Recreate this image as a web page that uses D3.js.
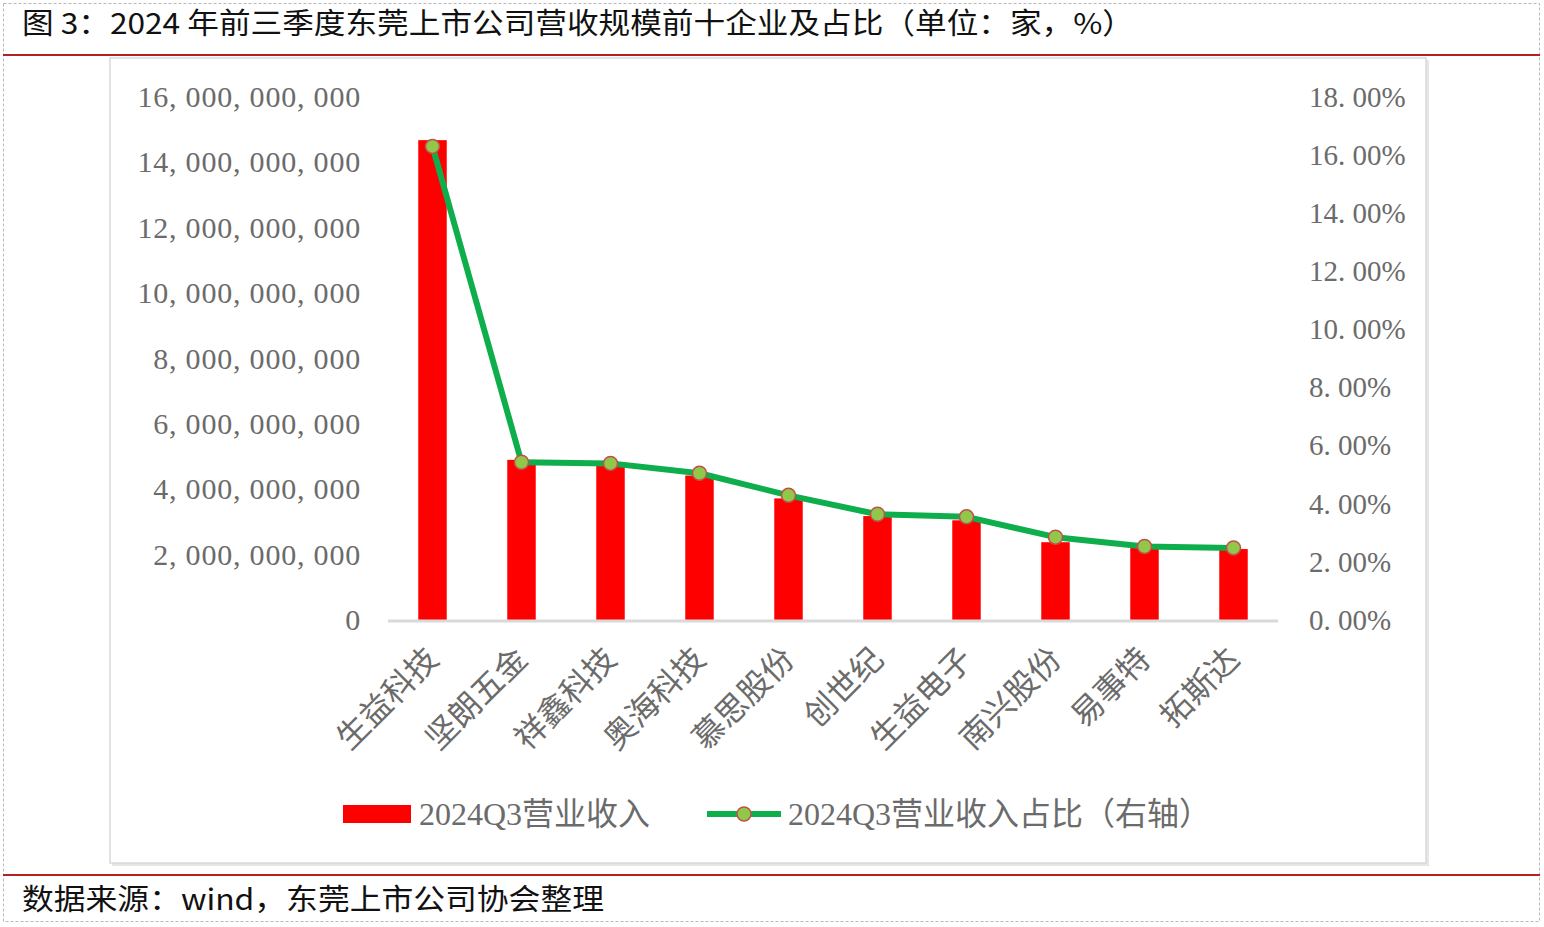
<!DOCTYPE html>
<html>
<head>
<meta charset="utf-8">
<script src="https://cdn.jsdelivr.net/npm/d3@7"></script>
<style>
  body { margin: 0; background: #fff; }
  svg { display: block; }
</style>
</head>
<body>
<svg id="chart" width="1544" height="927"></svg>
<script>
// data
var companies = ["生益科技", "坚朗五金", "祥鑫科技", "奥海科技", "慕思股份",
                 "创世纪", "生益电子", "南兴股份", "易事特", "拓斯达"];
var revenue = [14.68e9, 4.90e9, 4.78e9, 4.42e9, 3.72e9, 3.18e9, 3.05e9, 2.38e9, 2.21e9, 2.17e9];
var share = [16.30, 5.43, 5.39, 5.05, 4.29, 3.64, 3.55, 2.85, 2.53, 2.48];
var leftTicks = [0, 2e9, 4e9, 6e9, 8e9, 10e9, 12e9, 14e9, 16e9];
var rightTicks = [0, 2, 4, 6, 8, 10, 12, 14, 16, 18];

var title = "图 3：2024 年前三季度东莞上市公司营收规模前十企业及占比（单位：家，%）";
var source = "数据来源：wind，东莞上市公司协会整理";
var legendNames = ["2024Q3营业收入", "2024Q3营业收入占比（右轴）"];

var svg = d3.select("#chart");
var cjk = "'Noto Sans CJK SC', 'Noto Sans', sans-serif";
var serif = "'Liberation Serif', 'DejaVu Serif', serif";
var cjkSerif = "'Liberation Serif', 'Noto Sans CJK SC', serif";
var labelColor = "#6b6b6b";

// outer frame
svg.append("rect")
    .attr("x", 3.5).attr("y", 3.5)
    .attr("width", 1536).attr("height", 918)
    .attr("fill", "none")
    .attr("stroke", "#b8b8b8")
    .attr("stroke-dasharray", "3,2");

// title + rules
svg.append("text")
    .attr("x", 22).attr("y", 34)
    .attr("font-family", cjk)
    .attr("font-size", 29)
    .attr("fill", "#111")
    .attr("textLength", 1112)
    .attr("lengthAdjust", "spacingAndGlyphs")
    .text(title);

svg.append("line")
    .attr("x1", 3).attr("x2", 1540).attr("y1", 55).attr("y2", 55)
    .attr("stroke", "#b22222").attr("stroke-width", 2);

svg.append("line")
    .attr("x1", 3).attr("x2", 1540).attr("y1", 875).attr("y2", 875)
    .attr("stroke", "#b22222").attr("stroke-width", 2);

svg.append("text")
    .attr("x", 22).attr("y", 910)
    .attr("font-family", cjk)
    .attr("font-size", 29)
    .attr("fill", "#111")
    .attr("textLength", 582)
    .attr("lengthAdjust", "spacingAndGlyphs")
    .text(source);

// chart box with a soft shadow
svg.append("rect")
    .attr("x", 112).attr("y", 60)
    .attr("width", 1317).attr("height", 806)
    .attr("fill", "#e6e6e6");
svg.append("rect")
    .attr("x", 110).attr("y", 58)
    .attr("width", 1316).attr("height", 805)
    .attr("fill", "#fff")
    .attr("stroke", "#d9d9d9")
    .attr("stroke-width", 1.5);

// scales
var x = d3.scaleBand()
    .domain(companies)
    .range([388, 1278])
    .paddingInner(0.68)
    .paddingOuter(0.34);

var yLeft = d3.scaleLinear().domain([0, 16e9]).range([620, 97]);
var yRight = d3.scaleLinear().domain([0, 18]).range([620, 97]);

// left axis labels
var fmt = d3.format(",");
var leftAxis = svg.append("g")
    .attr("transform", "translate(361,0)")
    .call(d3.axisLeft(yLeft).tickValues(leftTicks)
        .tickSize(0).tickPadding(0)
        .tickFormat(function(d) { return fmt(d).replace(/,/g, ", "); }));
leftAxis.select(".domain").remove();
leftAxis.selectAll("text")
    .attr("font-family", serif)
    .attr("font-size", 30)
    .attr("letter-spacing", 0.8)
    .attr("fill", labelColor);

// right axis labels
var rightAxis = svg.append("g")
    .attr("transform", "translate(1309,0)")
    .call(d3.axisRight(yRight).tickValues(rightTicks)
        .tickSize(0).tickPadding(0)
        .tickFormat(function(d) { return d3.format(".2f")(d).replace(".", ". ") + "%"; }));
rightAxis.select(".domain").remove();
rightAxis.selectAll("text")
    .attr("font-family", serif)
    .attr("font-size", 29)
    .attr("fill", labelColor);

// bars
svg.append("g").selectAll("rect")
    .data(companies)
    .enter().append("rect")
    .attr("x", function(d) { return x(d); })
    .attr("y", function(d, i) { return yLeft(revenue[i]); })
    .attr("width", x.bandwidth())
    .attr("height", function(d, i) { return yLeft(0) - yLeft(revenue[i]); })
    .attr("fill", "#ff0000");

// baseline
svg.append("line")
    .attr("x1", 388).attr("x2", 1278)
    .attr("y1", yLeft(0) + 1).attr("y2", yLeft(0) + 1)
    .attr("stroke", "#d9d9d9").attr("stroke-width", 3);

// category labels, rotated
var xAxis = svg.append("g")
    .attr("transform", "translate(0," + (yLeft(0) + 1) + ")")
    .call(d3.axisBottom(x).tickSize(0).tickPadding(0));
xAxis.select(".domain").remove();
xAxis.selectAll("text")
    .attr("font-family", cjkSerif)
    .attr("font-size", 32)
    .attr("fill", labelColor)
    .attr("text-anchor", "end")
    .attr("dy", null)
    .attr("y", 0)
    .attr("transform", "translate(8,40) rotate(-45)");

// share line
var pts = companies.map(function(d, i) {
  return [x(d) + x.bandwidth() / 2, yRight(share[i])];
});

svg.append("path")
    .datum(pts)
    .attr("d", d3.line())
    .attr("fill", "none")
    .attr("stroke", "#0fae4c")
    .attr("stroke-width", 6)
    .attr("stroke-linejoin", "round");

svg.append("g").selectAll("circle")
    .data(pts)
    .enter().append("circle")
    .attr("cx", function(d) { return d[0]; })
    .attr("cy", function(d) { return d[1]; })
    .attr("r", 7)
    .attr("fill", "#92c84a")
    .attr("stroke", "#c0504d")
    .attr("stroke-width", 1.5);

// legend
var legend = svg.append("g");
legend.append("rect")
    .attr("x", 343).attr("y", 805)
    .attr("width", 68).attr("height", 18)
    .attr("fill", "#ff0000");
legend.append("text")
    .attr("x", 419).attr("y", 814)
    .attr("dy", "0.35em")
    .attr("font-family", cjkSerif)
    .attr("font-size", 32)
    .attr("fill", labelColor)
    .text(legendNames[0]);

legend.append("line")
    .attr("x1", 707).attr("x2", 781)
    .attr("y1", 814).attr("y2", 814)
    .attr("stroke", "#0fae4c").attr("stroke-width", 6);
legend.append("circle")
    .attr("cx", 744).attr("cy", 814).attr("r", 7)
    .attr("fill", "#92c84a")
    .attr("stroke", "#c0504d")
    .attr("stroke-width", 1.5);
legend.append("text")
    .attr("x", 788).attr("y", 814)
    .attr("dy", "0.35em")
    .attr("font-family", cjkSerif)
    .attr("font-size", 32)
    .attr("fill", labelColor)
    .text(legendNames[1]);
</script>
</body>
</html>
